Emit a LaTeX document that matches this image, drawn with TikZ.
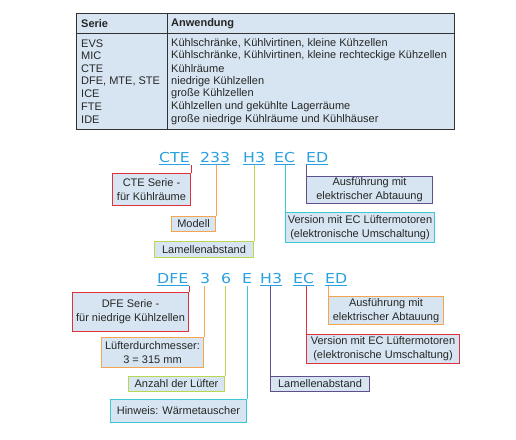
\documentclass[tikz,border=0pt]{standalone}
\usepackage{fontspec}
\setmainfont{Liberation Sans}
\newfontfamily\codefont[FakeStretch=1.15]{DejaVu Sans}
\definecolor{codeblue}{RGB}{40,160,225}
\definecolor{cred}{RGB}{224,48,60}
\definecolor{corange}{RGB}{245,165,80}
\definecolor{cgreen}{RGB}{185,215,80}
\definecolor{ccyan}{RGB}{60,200,214}
\definecolor{cpurple}{RGB}{95,80,140}
\definecolor{boxfill}{RGB}{214,229,241}
\definecolor{tborder}{RGB}{50,50,50}
\begin{document}
\begin{tikzpicture}[x=1pt,y=-1pt,
  lbox/.style={draw, fill=boxfill, line width=1pt, inner sep=0pt, align=center,
    anchor=north west, font=\fontsize{11}{14}\selectfont, text=black!85},
  code/.style={anchor=base west, inner sep=0pt, text depth=0pt, text=codeblue,
    font=\codefont\fontsize{13.7}{14}\selectfont},
  ttext/.style={anchor=west, inner sep=0pt, font=\fontsize{11}{12}\selectfont, text=black!85},
  conn/.style={line width=1pt}]
\useasboundingbox (0,0) rectangle (516,439);
% table
\fill[boxfill] (76,13) rectangle (454,129);
\draw[tborder, line width=0.8pt] (76,13) rectangle (454,129);
\draw[tborder, line width=0.8pt] (76,33) -- (454,33);
\draw[tborder, line width=0.8pt] (167,13) -- (167,129);
\node[ttext, font=\bfseries\fontsize{11}{12}\selectfont] (h1) at (81,23.5) {Serie};
\node[ttext, font=\bfseries\fontsize{11}{12}\selectfont] (h2) at (171,23.5) {Anwendung};
\foreach \i/\a/\b in {0/EVS/{Kühlschränke, Kühlvirtinen, kleine Kühzellen},
  1/MIC/{Kühlschränke, Kühlvirtinen, kleine rechteckige Kühzellen},
  2/CTE/{Kühlräume},
  3/{DFE, MTE, STE}/{niedrige Kühlzellen},
  4/ICE/{große Kühlzellen},
  5/FTE/{Kühlzellen und gekühlte Lagerräume},
  6/IDE/{große niedrige Kühlräume und Kühlhäuser}}{
  \node[ttext] (ra\i) at (81,43.3+12.67*\i) {\a};
  \node[ttext] (rb\i) at (171,43.3+12.67*\i) {\b};
}
% CTE code
\node[code] (cte) at (159,162) {CTE};
\node[code] (c233) at (200,162) {233};
\node[code] (ch3) at (243,162) {H3};
\node[code] (cec) at (274,162) {EC};
\node[code] (ced) at (306,162) {ED};
\foreach \n in {cte,c233,ch3,cec,ced}{
  \draw[codeblue, line width=0.9pt] ([yshift=-2.5pt]\n.south west) -- ([yshift=-2.5pt]\n.south east);
}
\node[lbox, draw=cred, minimum width=78pt, minimum height=32pt] (b1) at (112,173) {CTE Serie -\\für Kühlräume};
\node[lbox, draw=corange, minimum width=44pt, minimum height=15pt] (b2) at (171,216) {Modell};
\node[lbox, draw=cgreen, minimum width=99pt, minimum height=16pt] (b3) at (154,241) {Lamellenabstand};
\node[lbox, draw=ccyan, minimum width=149pt, minimum height=30pt] (b4) at (285,212) {Version mit EC Lüftermotoren\\(elektronische Umschaltung)};
\node[lbox, draw=cpurple, minimum width=126pt, minimum height=27pt] (b5) at (306,176) {Ausführung mit\\elektrischer Abtauung};
\draw[conn, cred] (b1.north east) -- ([yshift=-2.5pt]b1.north east |- cte.south);
\draw[conn, corange] (b2.north east) -- ([yshift=-2.5pt]b2.north east |- c233.south);
\draw[conn, cgreen] (b3.north east) -- ([yshift=-2.5pt]b3.north east |- ch3.south);
\draw[conn, ccyan] (b4.north west) -- ([yshift=-2.5pt]b4.north west |- cec.south);
\draw[conn, cpurple] (b5.north west) -- ([yshift=-2.5pt]b5.north west |- ced.south);
% DFE code
\node[code] (dfe) at (157,283) {DFE};
\node[code] (d3) at (200,283) {3};
\node[code] (d6) at (221,283) {6};
\node[code] (de) at (242,283) {E};
\node[code] (dh3) at (260,283) {H3};
\node[code] (dec) at (293,283) {EC};
\node[code] (ded) at (325,283) {ED};
\foreach \n in {dfe,dh3,dec,ded}{
  \draw[codeblue, line width=0.9pt] ([yshift=-2.5pt]\n.south west) -- ([yshift=-2.5pt]\n.south east);
}
\node[lbox, draw=cred, minimum width=116pt, minimum height=39pt] (e1) at (72,292) {DFE Serie -\\für niedrige Kühlzellen};
\node[lbox, draw=corange, minimum width=102pt, minimum height=30pt] (e2) at (101,337) {Lüfterdurchmesser:\\3 = 315 mm};
\node[lbox, draw=cgreen, minimum width=96pt, minimum height=15pt] (e3) at (128,376) {Anzahl der Lüfter};
\node[lbox, draw=ccyan, minimum width=136pt, minimum height=23pt] (e4) at (110,399) {Hinweis: Wärmetauscher};
\node[lbox, draw=cpurple, minimum width=99pt, minimum height=15pt] (e5) at (270,376) {Lamellenabstand};
\node[lbox, draw=cred, minimum width=153pt, minimum height=29pt] (e6) at (306,334) {Version mit EC Lüftermotoren\\(elektronische Umschaltung)};
\node[lbox, draw=corange, minimum width=115pt, minimum height=28pt] (e7) at (328,296) {Ausführung mit\\elektrischer Abtauung};
\draw[conn, cred] (e1.north east) -- ([yshift=-2.5pt]e1.north east |- dfe.south);
\draw[conn, corange] (e2.north east) -- ([yshift=-2.5pt]e2.north east |- d3.south);
\draw[conn, cgreen] (e3.north east) -- ([yshift=-2.5pt]e3.north east |- d6.south);
\draw[conn, ccyan] (e4.north east) -- ([yshift=-2.5pt]e4.north east |- de.south);
\draw[conn, cpurple] (e5.north west) -- ([yshift=-2.5pt]e5.north west |- dh3.south);
\draw[conn, cred] (e6.north west) -- ([yshift=-2.5pt]e6.north west |- dec.south);
\draw[conn, corange] (e7.north west) -- ([yshift=-2.5pt]e7.north west |- ded.south);
\end{tikzpicture}
\end{document}
